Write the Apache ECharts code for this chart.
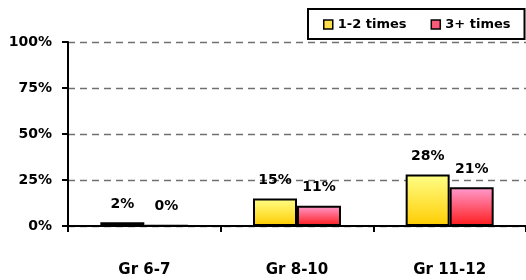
<!DOCTYPE html>
<html>
    <head>
        <meta charset="utf-8">
        <title>chart</title>
        <script src="https://cdn.jsdelivr.net/npm/echarts@6/dist/echarts.min.js"></script>
        <style type="text/css">
            *{margin: 0}
        </style>
    </head>
    <body>
        <div id="main" style="width: 526px;height:280px;"></div>
        <script type="text/javascript">
        var categories = ['Gr 6-7', 'Gr 8-10', 'Gr 11-12'];
        var seriesNames = ['1-2 times', '3+ times'];
        var once = [2, 15, 28];
        var more = [0.4, 11, 21]; // shown as 0%, bar is a thin sliver in the original
        var yTicks = [0, 25, 50, 75, 100];

        var myChart = echarts.init(document.getElementById('main'));
        var font = 'DejaVu Sans, sans-serif';

        function grad(top, bottom) {
            return new echarts.graphic.LinearGradient(0, 0, 0, 1, [
                {offset: 0, color: top},
                {offset: 1, color: bottom}
            ]);
        }
        var label = {
            show: true,
            position: 'top',
            distance: 11,
            formatter: function (p) { return Math.round(p.value) + '%'; },
            fontFamily: font,
            fontWeight: 'bold',
            fontSize: 14,
            color: '#000'
        };

        myChart.setOption({
            animation: false,
            grid: {left: 68, right: 0, top: 42, bottom: 54},
            legend: {
                data: [
                    {name: seriesNames[0], itemStyle: {color: '#ffe04a', borderColor: '#000', borderWidth: 1.5}},
                    {name: seriesNames[1], itemStyle: {color: '#ff5a7a', borderColor: '#000', borderWidth: 1.5}}
                ],
                left: 308,
                top: 9,
                padding: [9, 14, 8, 15],
                borderColor: '#000',
                borderWidth: 2,
                itemWidth: 9,
                itemHeight: 9,
                itemGap: 24,
                icon: 'rect',
                textStyle: {fontFamily: font, fontWeight: 'bold', fontSize: 13, color: '#000'}
            },
            xAxis: {
                type: 'category',
                data: categories,
                axisLine: {lineStyle: {color: '#000', width: 2}},
                axisTick: {show: true, length: 6, inside: false, lineStyle: {color: '#000', width: 2}},
                axisLabel: {fontFamily: font, fontWeight: 'bold', fontSize: 15, color: '#000', margin: 37}
            },
            yAxis: {
                type: 'value',
                min: yTicks[0],
                max: yTicks[yTicks.length - 1],
                interval: yTicks[1] - yTicks[0],
                axisLine: {show: true, lineStyle: {color: '#000', width: 2}},
                axisTick: {show: true, length: 6, lineStyle: {color: '#000', width: 2}},
                axisLabel: {formatter: '{value}%', fontFamily: font, fontWeight: 'bold', fontSize: 14, color: '#000', margin: 16},
                splitLine: {lineStyle: {color: '#707070', type: [7, 5], width: 1.3}}
            },
            series: [{
                name: seriesNames[0],
                type: 'bar',
                data: once,
                barWidth: 44,
                barGap: '0%',
                itemStyle: {color: grad('#ffff88', '#ffcc00'), borderColor: '#000', borderWidth: 2},
                label: label
            }, {
                name: seriesNames[1],
                type: 'bar',
                data: more,
                barWidth: 44,
                barGap: '0%',
                itemStyle: {color: grad('#ff9ccf', '#ff1a1a'), borderColor: '#000', borderWidth: 2},
                label: label
            }]
        });
        </script>
    </body>
</html>
